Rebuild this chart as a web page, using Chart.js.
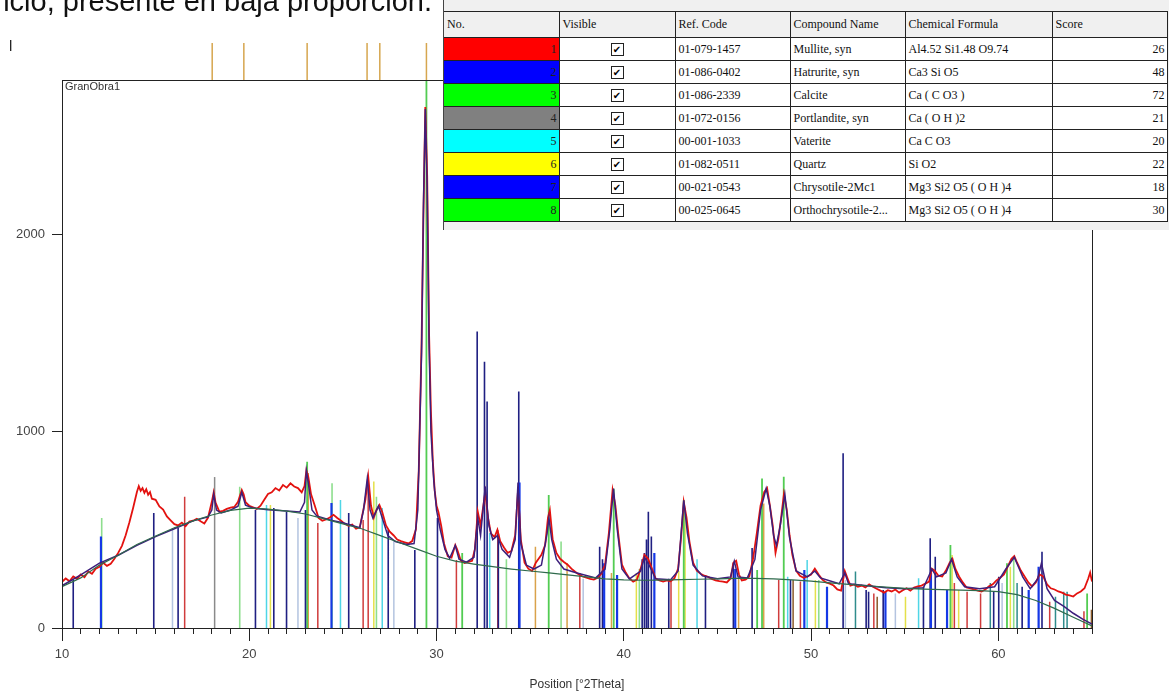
<!DOCTYPE html>
<html><head><meta charset="utf-8">
<script src="https://cdn.jsdelivr.net/npm/chart.js@4/dist/chart.umd.min.js"></script>
<style>
html,body{margin:0;padding:0;background:#fff;width:1171px;height:691px;overflow:hidden;position:relative;font-family:"Liberation Sans",Arial,sans-serif;}
canvas{position:absolute;left:0;top:0;}
#caption{position:absolute;right:739px;top:-13px;font-size:29px;line-height:1;white-space:nowrap;color:#111;}
#mark{position:absolute;left:9px;top:38px;font-size:15px;line-height:1;color:#222;}
#runLabel{position:absolute;left:65px;top:81px;font-size:11px;line-height:1;color:#333;font-family:"Liberation Sans Narrow","Liberation Sans",Arial,sans-serif;}
#panel{position:absolute;left:443px;top:0;width:725px;height:230px;background:#f0f0f0;border-left:1px solid #444;z-index:5;}
#phases{position:absolute;left:0;top:11px;border-collapse:collapse;table-layout:fixed;font-family:"Liberation Serif","Times New Roman",serif;font-size:12px;color:#111;}
#phases th,#phases td{border:1px solid #222;padding:0 3px;white-space:nowrap;overflow:hidden;}
#phases tr > :first-child{border-left:none;}
#phases th{background:#f0f0f0;font-weight:normal;text-align:left;height:25px;}
#phases td{background:#fff;height:22px;}
#phases td.no{text-align:right;padding-right:2px;color:#222;}
#phases td.sc{text-align:right;padding-right:2px;}
#phases td.vis{text-align:center;}
.cb{display:inline-block;width:11px;height:11px;border:1px solid #222;font-family:"DejaVu Sans",sans-serif;font-size:10px;line-height:11px;text-align:center;vertical-align:middle;color:#000;background:#fff;}
</style></head>
<body>
<canvas id="main" width="1171" height="691"></canvas>
<canvas id="strip" width="1171" height="82"></canvas>
<div id="caption">icio, presente en baja proporción.</div>
<div id="mark">l</div>
<div id="runLabel">GranObra1</div>
<div id="panel">
<table id="phases">
<colgroup><col style="width:115px"><col style="width:116px"><col style="width:115px"><col style="width:115px"><col style="width:147px"><col style="width:115px"></colgroup>
<tbody id="tbody"><tr><th>No.</th><th>Visible</th><th>Ref. Code</th><th>Compound Name</th><th>Chemical Formula</th><th>Score</th></tr></tbody>
</table>
</div>
<script>
// ---------- phase table ----------
const phaseNo = [1,2,3,4,5,6,7,8];
const phaseColors = ['#ff0000','#0000ff','#00ff00','#808080','#00ffff','#ffff00','#0000ff','#00ff00'];
const refCodes = ['01-079-1457','01-086-0402','01-086-2339','01-072-0156','00-001-1033','01-082-0511','00-021-0543','00-025-0645'];
const compoundNames = ['Mullite, syn','Hatrurite, syn','Calcite','Portlandite, syn','Vaterite','Quartz','Chrysotile-2Mc1','Orthochrysotile-2...'];
const formulas = ['Al4.52 Si1.48 O9.74','Ca3 Si O5','Ca ( C O3 )','Ca ( O H )2','Ca C O3','Si O2','Mg3 Si2 O5 ( O H )4','Mg3 Si2 O5 ( O H )4'];
const scores = [26,48,72,21,20,22,18,30];

// ---------- measured pattern ----------
const obsX = [10.0,10.2,10.4,10.6,10.8,11.0,11.2,11.4,11.6,11.8,12.0,12.2,12.4,12.6,12.8,13.0,13.2,13.4,13.6,13.8,14.0,14.1,14.2,14.3,14.4,14.5,14.6,14.7,14.8,15.0,15.2,15.4,15.6,15.8,16.0,16.2,16.4,16.6,16.8,17.0,17.2,17.4,17.6,17.8,18.0,18.1,18.2,18.4,18.6,18.8,19.0,19.2,19.4,19.6,19.7,19.8,20.0,20.2,20.4,20.6,20.8,21.0,21.2,21.4,21.6,21.8,22.0,22.2,22.4,22.6,22.8,22.95,23.05,23.15,23.3,23.5,23.7,23.9,24.1,24.3,24.5,24.7,24.9,25.1,25.3,25.5,25.7,25.9,26.05,26.2,26.35,26.5,26.65,26.8,26.95,27.1,27.3,27.5,27.7,27.9,28.1,28.3,28.5,28.7,28.9,29.05,29.2,29.3,29.4,29.5,29.6,29.7,29.8,29.9,30.0,30.1,30.25,30.4,30.6,30.8,31.0,31.1,31.3,31.5,31.7,31.9,32.05,32.2,32.35,32.6,32.75,32.9,33.1,33.25,33.4,33.6,33.8,34.0,34.2,34.35,34.5,34.7,34.9,35.1,35.3,35.45,35.6,35.8,35.95,36.05,36.2,36.4,36.6,36.8,37.0,37.2,37.4,37.6,37.8,38.0,38.2,38.4,38.6,38.8,39.0,39.2,39.4,39.55,39.7,39.9,40.1,40.3,40.5,40.7,40.9,41.1,41.3,41.5,41.7,41.9,42.1,42.3,42.5,42.7,42.9,43.05,43.2,43.35,43.5,43.7,43.9,44.1,44.3,44.5,44.7,44.9,45.1,45.3,45.5,45.7,45.85,46.0,46.15,46.3,46.5,46.7,46.9,47.1,47.3,47.5,47.65,47.8,47.95,48.1,48.25,48.4,48.55,48.7,48.85,49.0,49.2,49.4,49.6,49.8,50.0,50.2,50.4,50.6,50.8,51.0,51.2,51.4,51.6,51.8,51.95,52.1,52.3,52.5,52.7,52.9,53.1,53.3,53.5,53.7,53.9,54.1,54.3,54.5,54.7,54.9,55.1,55.3,55.5,55.7,55.9,56.1,56.3,56.45,56.6,56.8,57.0,57.2,57.4,57.55,57.7,57.9,58.1,58.3,58.5,58.7,58.9,59.1,59.3,59.5,59.7,59.9,60.1,60.3,60.5,60.7,60.85,61.0,61.2,61.4,61.6,61.8,62.0,62.2,62.4,62.6,62.8,63.0,63.2,63.4,63.6,63.8,64.0,64.2,64.4,64.6,64.8,64.9,65.0];
const obsY = [235,252,238,262,250,272,258,287,276,302,312,332,316,327,352,382,418,472,538,612,692,722,698,712,688,706,678,692,658,652,618,603,568,548,528,522,536,518,542,546,556,543,532,562,642,690,638,592,596,606,612,616,642,702,680,640,622,614,606,622,652,682,690,712,700,727,714,736,720,712,690,722,802,770,680,622,560,546,552,562,576,560,546,530,520,526,505,512,582,652,772,622,562,602,626,590,522,490,472,450,442,436,430,442,502,800,1450,2100,2650,2300,1500,1100,850,700,622,590,520,430,365,358,422,400,342,330,336,342,402,592,522,690,562,482,462,500,442,410,382,392,472,700,450,332,302,290,332,352,372,422,562,600,452,382,352,336,322,302,286,272,262,256,250,246,256,276,322,482,702,622,482,322,282,252,236,246,302,372,352,302,252,242,236,242,238,252,302,452,642,562,442,332,292,276,266,260,250,242,238,236,232,252,332,342,272,242,246,262,352,482,622,692,712,622,522,382,452,562,682,602,472,372,292,266,256,262,272,302,272,246,232,226,216,196,190,290,252,216,222,210,216,206,222,210,200,190,180,192,186,196,180,192,202,190,206,212,216,226,236,302,292,266,262,292,332,352,302,262,232,206,202,196,190,186,196,212,222,242,256,272,312,352,366,332,292,262,232,212,232,272,262,222,202,196,186,180,170,166,160,176,186,202,252,282,236];

// ---------- fitted profile ----------
const fitX = [10.0,11.0,12.0,13.0,14.0,15.0,16.0,17.0,17.8,18.0,18.1,18.25,18.5,19.0,19.4,19.6,19.8,20.2,21.0,22.0,22.7,22.95,23.05,23.15,23.35,23.6,24.3,25.0,25.9,26.1,26.3,26.45,26.6,26.9,27.1,27.4,27.8,28.4,28.8,29.0,29.2,29.3,29.4,29.5,29.6,29.7,29.85,30.0,30.2,30.45,30.7,31.0,31.2,31.6,32.0,32.2,32.35,32.6,32.8,33.0,33.25,33.5,33.9,34.2,34.35,34.5,34.8,35.2,35.6,35.9,36.0,36.15,36.4,36.8,37.5,38.5,39.0,39.25,39.45,39.65,39.9,40.3,40.9,41.1,41.35,41.7,42.5,42.9,43.2,43.4,43.7,44.2,45.0,45.7,45.9,46.1,46.6,47.0,47.3,47.6,47.8,48.0,48.15,48.35,48.6,48.85,49.2,49.8,50.2,50.5,51.5,51.8,52.0,53.0,54.0,55.0,56.0,56.45,56.7,57.2,57.5,57.8,58.2,59.0,59.8,60.4,60.85,61.3,61.7,62.1,62.3,62.6,63.0,63.5,64.0,64.5,65.0];
const fitY = [215,270,330,370,420,465,505,545,565,600,680,600,585,600,620,690,625,610,602,595,590,640,800,740,600,570,550,535,510,600,760,600,560,620,560,470,440,425,430,600,1400,2150,2640,2250,1450,1000,750,600,500,400,355,420,350,335,360,560,470,720,520,450,470,400,360,450,740,430,320,300,320,480,560,450,350,300,280,255,300,500,710,500,300,250,290,360,320,250,245,290,650,480,320,265,250,260,340,260,255,350,600,710,620,470,420,520,680,460,290,260,290,255,225,280,225,215,205,200,205,300,260,280,350,260,210,200,210,300,360,260,200,250,330,200,140,110,75,45,20];

// ---------- background ----------
const bgX = [10,11,12,13,14,15,16,17,18,19,20,21,22,23,24,25,26,27,28,29,30,31,32,33,34,35,36,37,38,39,40,41,42,43,44,45,46,47,48,49,50,51,52,53,54,55,56,57,58,59,60,61,62,63,64,65];
const bgY = [210,255,320,370,425,468,510,545,575,598,610,605,595,580,555,530,505,470,435,400,365,340,325,312,300,290,280,270,260,250,245,243,244,246,248,250,252,252,250,245,238,230,222,215,208,202,198,195,193,190,185,170,140,100,55,10];

// ---------- reference sticks ----------
const mullitePos = [16.55,23.66,26.08,26.35,31.06,33.27,37.65,42.52,48.27,49.43,53.35,57.65,58.33,59.05,62.74,64.57];
const mulliteInt = [668,534,550,778,346,499,280,240,244,236,176,229,185,176,134,85];
const hatruritePos = [10.6,14.9,16.2,20.33,21.31,21.99,23.0,25.31,27.42,28.84,30.05,32.17,32.56,32.7,33.3,34.39,38.71,38.86,40.98,41.1,41.21,41.31,41.47,42.4,44.36,45.85,46.85,48.9,51.71,52.94,53.07,53.85,56.0,56.36,56.63,59.75,60.02,61.27,62.33];
const hatruriteInt = [247,585,509,600,610,590,600,585,500,397,560,1508,1355,1152,480,1203,414,350,350,382,450,592,465,250,270,331,407,244,889,193,185,193,210,456,363,185,261,210,388];
const calcitePos = [23.09,29.46,31.37,35.99,39.46,43.2,47.12,47.38,48.54,57.44,60.46,64.74];
const calciteInt = [846,2790,382,677,709,651,295,761,770,422,329,176];
const portlanditePos = [18.15];
const portlanditeInt = [768];
const vateritePos = [20.92,24.87,27.1,32.84,43.91,48.75,49.79,55.74];
const vateriteInt = [626,651,610,483,350,261,346,253];
const quartzPos = [21.13,26.65,40.67,42.93,43.27,50.23,55.04,57.53,57.88,60.64];
const quartzInt = [626,745,280,290,610,244,159,371,193,312];
const chrysotilePos = [12.08,24.39,34.43,38.95,39.64,41.63,45.95,49.64,50.85,53.97,56.4,57.26,61.62,62.15];
const chrysotileInt = [465,636,740,330,270,382,300,295,210,185,280,193,193,312];
const orthoPos = [12.12,19.49,24.42,26.79,33.73,36.65,40.83,50.41,60.82];
const orthoInt = [560,719,737,668,350,440,300,244,363];
const peakPos = [23.15,35.28,36.97,39.34,46.13,47.47];
const peakInt = [789,414,331,280,261,634];
const paleBluePos = [15.9,22.6,27.72,37.83,51.83,54.5,60.2];
const paleBlueInt = [509,560,448,250,244,176,229];
const tealPos = [52.37,59.57,61.0,63.05,63.49,63.67];
const tealInt = [287,229,229,159,185,185];
const brownPos = [49.04,53.53,64.97];
const brownInt = [244,159,93];
// peak-list markers above the pattern
const markerPos = [18.02,19.71,23.09,26.29,26.97,29.46];

// ---------- axes ----------
const xMin = 10, xMax = 65, yMax = 2788;
const xMajorStep = 10, xMinorStep = 1;
const yTickValues = [0, 1000, 2000];

// ---------- build table ----------
const tb = document.getElementById('tbody');
phaseNo.forEach((n,i)=>{
  const tr = document.createElement('tr');
  tr.innerHTML = '<td class="no" style="background:'+phaseColors[i]+'">'+n+'</td>'+
    '<td class="vis"><span class="cb">\u2714</span></td>'+
    '<td>'+refCodes[i]+'</td><td>'+compoundNames[i]+'</td><td>'+formulas[i]+'</td>'+
    '<td class="sc">'+scores[i]+'</td>';
  tb.appendChild(tr);
});

// ---------- helpers ----------
function pairs(xs, ys){ return xs.map((x,i)=>({x:x, y:ys[i]})); }
function sticks(pos, hts){ const out=[]; pos.forEach((p,i)=>{ out.push({x:p,y:0},{x:p,y:hts[i]},{x:p,y:null}); }); return out; }
function lineDs(label, data, color, width){
  return {label:label, data:data, borderColor:color, borderWidth:width, pointRadius:0, tension:0, spanGaps:false, fill:false, xAxisID:'x', yAxisID:'y'};
}

const frame = {
  id:'frame',
  afterDraw(chart){
    const a = chart.chartArea, c = chart.ctx;
    c.save(); c.strokeStyle='#222'; c.lineWidth=1;
    c.strokeRect(Math.round(a.left)+0.5, Math.round(a.top)+0.5, Math.round(a.right-a.left), Math.round(a.bottom-a.top));
    c.restore();
  }
};

const tickFont = {family:'"Liberation Sans Narrow","Liberation Sans",Arial,sans-serif', size:13};

new Chart(document.getElementById('main'), {
  type:'line',
  data:{datasets:[
    lineDs('Background', pairs(bgX, bgY), '#2f6a4c', 1.2),
    lineDs('Fit', pairs(fitX, fitY), '#3d1f7c', 1.5),
    lineDs('Observed', pairs(obsX, obsY), '#e3120f', 1.8),
    lineDs('Chrysotile-2Mc1', sticks(chrysotilePos, chrysotileInt), '#1538e6', 2.2),
    lineDs('Hatrurite, syn', sticks(hatruritePos, hatruriteInt), '#1f1f82', 1.6),
    lineDs('Calcite', sticks(calcitePos, calciteInt), '#52cc52', 1.8),
    lineDs('Mullite, syn', sticks(mullitePos, mulliteInt), '#d03c3c', 1.5),
    lineDs('Portlandite, syn', sticks(portlanditePos, portlanditeInt), '#8a8a8a', 1.5),
    lineDs('Vaterite', sticks(vateritePos, vateriteInt), '#4fd6e6', 1.5),
    lineDs('Quartz', sticks(quartzPos, quartzInt), '#e4e04a', 1.5),
    lineDs('Orthochrysotile', sticks(orthoPos, orthoInt), '#8ede8e', 1.6),
    lineDs('Peak list', sticks(peakPos, peakInt), '#d9a24a', 1.5),
    lineDs('Pale', sticks(paleBluePos, paleBlueInt), '#b4c4e0', 1.5),
    lineDs('Teal', sticks(tealPos, tealInt), '#2f8c8c', 1.5),
    lineDs('Brown', sticks(brownPos, brownInt), '#8a5a2a', 1.5)
  ]},
  options:{
    responsive:false, animation:false, devicePixelRatio:1,
    layout:{padding:{top:80, right:79, left:0, bottom:0}},
    plugins:{legend:{display:false}, tooltip:{enabled:false}},
    scales:{
      x:{type:'linear', position:'bottom', min:xMin, max:xMax, weight:0,
         ticks:{display:false, stepSize:xMinorStep, includeBounds:false},
         grid:{display:true, drawOnChartArea:false, drawTicks:true, tickLength:6, color:'#222', lineWidth:1},
         border:{display:true, color:'#222', width:1},
         afterFit(s){ s.height = 6; }},
      xMajor:{type:'linear', axis:'x', position:'bottom', min:xMin, max:xMax, weight:1,
         ticks:{stepSize:xMajorStep, includeBounds:false, font:tickFont, color:'#444', padding:6, maxRotation:0, autoSkip:false},
         grid:{display:true, drawOnChartArea:false, drawTicks:true, tickLength:7, color:'#222', lineWidth:1},
         border:{display:false},
         title:{display:true, text:'Position [°2Theta]', font:{family:'"Liberation Sans Narrow","Liberation Sans",Arial,sans-serif', size:12, lineHeight:1}, color:'#333', padding:{top:0,bottom:0}},
         afterFit(s){ s.height = 57; }},
      y:{type:'linear', position:'left', min:0, max:yMax,
         afterBuildTicks(s){ s.ticks = yTickValues.map(v=>({value:v})); },
         ticks:{font:tickFont, color:'#444', padding:7, callback:v=>String(v)},
         grid:{display:true, drawOnChartArea:false, drawTicks:true, tickLength:10, color:'#222', lineWidth:1},
         border:{display:true, color:'#222', width:1},
         afterFit(s){ s.width = 62; }}
    }
  },
  plugins:[frame]
});

new Chart(document.getElementById('strip'), {
  type:'line',
  data:{datasets:[{label:'Peak list', data:sticks(markerPos, markerPos.map(()=>1)), borderColor:'#d6a64f', borderWidth:1.5, pointRadius:0, spanGaps:false, fill:false}]},
  options:{
    responsive:false, animation:false, devicePixelRatio:1,
    layout:{padding:{top:43, right:79, left:62, bottom:2}},
    plugins:{legend:{display:false}, tooltip:{enabled:false}},
    scales:{x:{type:'linear', min:xMin, max:xMax, display:false}, y:{min:0, max:1, display:false}}
  }
});
</script>
</body></html>
